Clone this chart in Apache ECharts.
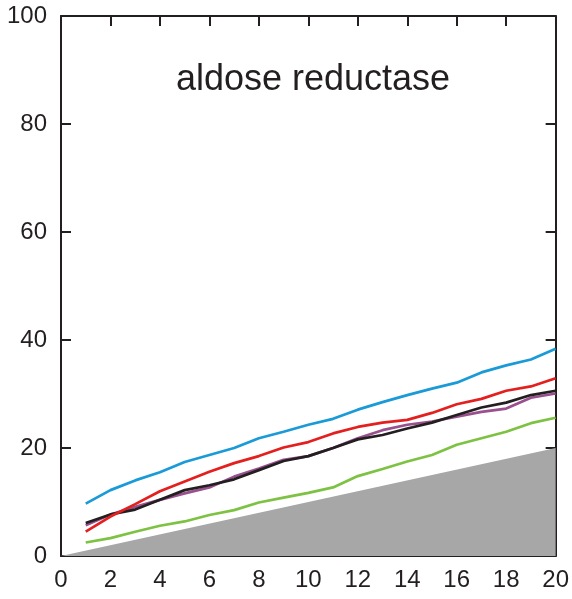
<!DOCTYPE html>
<html>
<head>
<meta charset="utf-8">
<script src="https://cdn.jsdelivr.net/npm/echarts@6/dist/echarts.min.js"></script>
<style>
  html, body { margin: 0; padding: 0; background: #fff; }
  #main { width: 572px; height: 599px; }
</style>
</head>
<body>
<div id="main"></div>
<script>
var xs = [1, 2, 3, 4, 5, 6, 7, 8, 9, 10, 11, 12, 13, 14, 15, 16, 17, 18, 19, 20];
var blue   = [9.7, 12.2, 14.0, 15.5, 17.4, 18.7, 20.0, 21.8, 23.0, 24.3, 25.4, 27.1, 28.5, 29.8, 31.0, 32.1, 34.0, 35.3, 36.4, 38.4];
var red    = [4.5, 7.3, 9.6, 12.0, 13.8, 15.6, 17.2, 18.5, 20.1, 21.1, 22.7, 23.9, 24.7, 25.2, 26.5, 28.1, 29.1, 30.6, 31.4, 32.9];
var black  = [6.1, 7.7, 8.6, 10.4, 12.2, 13.1, 14.2, 15.9, 17.6, 18.5, 20.0, 21.6, 22.4, 23.6, 24.7, 26.1, 27.5, 28.4, 29.8, 30.6];
var purple = [5.7, 7.7, 9.1, 10.4, 11.6, 12.7, 14.7, 16.2, 17.8, 18.5, 20.0, 21.8, 23.3, 24.3, 24.9, 25.8, 26.7, 27.3, 29.3, 30.1];
var green  = [2.5, 3.3, 4.5, 5.6, 6.4, 7.6, 8.5, 9.9, 10.8, 11.7, 12.7, 14.8, 16.1, 17.5, 18.7, 20.6, 21.8, 23.0, 24.6, 25.6];
var diagonal = [[0, 0], [20, 20]];

function pairs(vals) {
  return vals.map(function (v, i) { return [xs[i], v]; });
}

var chart = echarts.init(document.getElementById('main'));
var ink = '#231f20';
var fontFam = 'Liberation Sans, Arial, sans-serif';

function lineSeries(name, data, color) {
  return {
    name: name,
    type: 'line',
    data: pairs(data),
    symbol: 'none',
    lineStyle: { color: color, width: 2.7 },
    z: 3
  };
}

function axis(extra) {
  return Object.assign({
    type: 'value',
    axisLine: { show: true, onZero: false, lineStyle: { color: ink, width: 2 } },
    axisTick: { show: true, inside: true, length: 10, lineStyle: { color: ink, width: 2 } },
    splitLine: { show: false }
  }, extra);
}

chart.setOption({
  animation: false,
  backgroundColor: '#fff',
  title: {
    text: 'aldose reductase',
    left: 308,
    top: 57,
    textAlign: 'center',
    textStyle: { fontFamily: fontFam, fontSize: 36, fontWeight: 'normal', color: ink }
  },
  grid: { left: 61, top: 16, right: 15, bottom: 43 },
  xAxis: [
    axis({
      position: 'bottom', min: 0, max: 20, interval: 2,
      axisLabel: { fontFamily: fontFam, fontSize: 24, color: ink, margin: 12 }
    }),
    axis({
      position: 'top', min: 0, max: 20, interval: 2,
      axisLabel: { show: false }
    })
  ],
  yAxis: [
    axis({
      position: 'left', min: 0, max: 100, interval: 20,
      axisLabel: { fontFamily: fontFam, fontSize: 24, color: ink, margin: 14 }
    }),
    axis({
      position: 'right', min: 0, max: 100, interval: 20,
      axisLabel: { show: false }
    })
  ],
  series: [
    {
      name: 'diagonal',
      type: 'line',
      data: diagonal,
      symbol: 'none',
      lineStyle: { width: 0 },
      areaStyle: { color: '#a7a7a7', opacity: 1 },
      z: 1
    },
    lineSeries('green', green, '#7dc242'),
    lineSeries('purple', purple, '#9a4f8e'),
    lineSeries('black', black, ink),
    lineSeries('red', red, '#e3201f'),
    lineSeries('blue', blue, '#1a9ad7')
  ]
});
</script>
</body>
</html>
